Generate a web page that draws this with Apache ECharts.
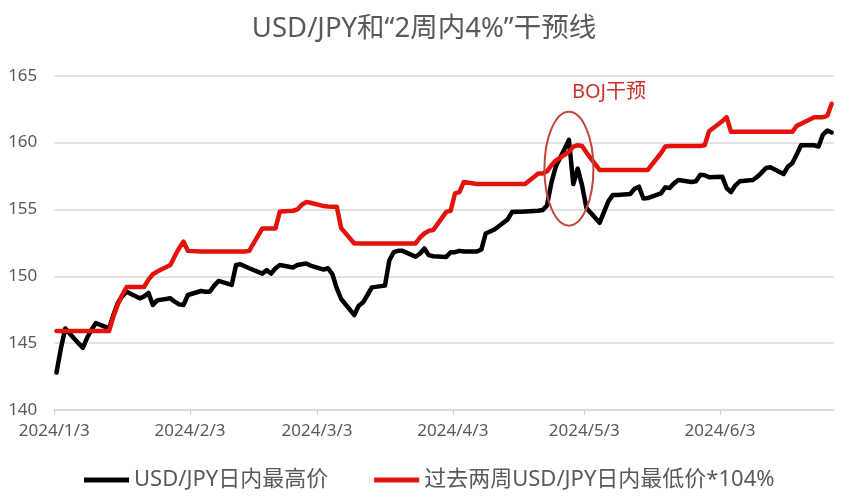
<!DOCTYPE html>
<html><head><meta charset="utf-8">
<script src="https://cdn.jsdelivr.net/npm/echarts@6/dist/echarts.min.js"></script>
<style>html,body{margin:0;padding:0;background:#fff}#c{width:848px;height:499px}</style>
</head><body><div id="c"></div>
<script>
const dates = [
'2024/1/3','2024/1/4','2024/1/5','2024/1/8','2024/1/9','2024/1/10','2024/1/11','2024/1/12','2024/1/15','2024/1/16','2024/1/17','2024/1/18','2024/1/19','2024/1/22','2024/1/23','2024/1/24','2024/1/25','2024/1/26','2024/1/29','2024/1/30','2024/1/31',
'2024/2/1','2024/2/2','2024/2/5','2024/2/6','2024/2/7','2024/2/8','2024/2/9','2024/2/12','2024/2/13','2024/2/14','2024/2/15','2024/2/16','2024/2/19','2024/2/20','2024/2/21','2024/2/22','2024/2/23','2024/2/26','2024/2/27','2024/2/28','2024/2/29',
'2024/3/1','2024/3/4','2024/3/5','2024/3/6','2024/3/7','2024/3/8','2024/3/11','2024/3/12','2024/3/13','2024/3/14','2024/3/15','2024/3/18','2024/3/19','2024/3/20','2024/3/21','2024/3/22','2024/3/25','2024/3/26','2024/3/27','2024/3/28','2024/3/29',
'2024/4/1','2024/4/2','2024/4/3','2024/4/4','2024/4/5','2024/4/8','2024/4/9','2024/4/10','2024/4/11','2024/4/12','2024/4/15','2024/4/16','2024/4/17','2024/4/18','2024/4/19','2024/4/22','2024/4/23','2024/4/24','2024/4/25','2024/4/26','2024/4/29','2024/4/30',
'2024/5/1','2024/5/2','2024/5/3','2024/5/6','2024/5/7','2024/5/8','2024/5/9','2024/5/10','2024/5/13','2024/5/14','2024/5/15','2024/5/16','2024/5/17','2024/5/20','2024/5/21','2024/5/22','2024/5/23','2024/5/24','2024/5/27','2024/5/28','2024/5/29','2024/5/30','2024/5/31',
'2024/6/3','2024/6/4','2024/6/5','2024/6/6','2024/6/7','2024/6/10','2024/6/11','2024/6/12','2024/6/13','2024/6/14','2024/6/17','2024/6/18','2024/6/19','2024/6/20','2024/6/21','2024/6/24','2024/6/25','2024/6/26','2024/6/27','2024/6/28'
];
// USD/JPY 日内最高价
const usdjpyHigh = [
142.8,144.6,146.1,145.0,144.65,145.4,146.0,146.5,146.1,147.1,148.0,148.5,148.85,148.35,148.5,148.75,147.85,148.2,148.35,148.1,147.9,
147.85,148.6,148.9,148.85,148.85,149.3,149.65,149.35,150.85,150.9,150.75,150.6,150.2,150.46,150.2,150.6,150.84,150.66,150.84,150.9,150.96,
150.8,150.5,150.6,150.15,149.1,148.3,147.1,147.8,148.05,148.6,149.17,149.3,151.2,151.8,151.9,151.9,151.46,151.7,152.08,151.58,151.5,
151.45,151.8,151.8,151.9,151.85,151.85,152.0,153.2,153.35,153.5,154.25,154.8,154.82,154.82,154.85,154.9,154.95,155.3,157.0,158.2,160.2,156.9,
158.05,156.8,155.1,154.0,154.8,155.6,156.07,156.07,156.15,156.55,156.7,155.82,155.85,156.2,156.65,156.6,156.95,157.2,157.05,157.1,157.6,157.55,157.4,
157.45,156.6,156.3,156.8,157.1,157.2,157.44,157.75,158.1,158.15,157.65,158.2,158.45,159.1,159.8,159.8,159.7,160.6,160.9,160.75
];
// 过去两周USD/JPY日内最低价*104%
const interventionLine = [
145.9,145.9,145.9,145.9,145.9,145.9,145.9,145.9,145.9,147.0,147.9,148.6,149.2,149.2,149.2,149.75,150.15,150.35,150.85,151.5,152.1,
152.6,151.9,151.85,151.85,151.85,151.85,151.85,151.85,151.85,151.85,151.85,151.9,153.58,153.58,153.58,153.58,154.85,154.9,155.0,155.35,155.55,
155.5,155.25,155.22,155.2,155.2,153.6,152.45,152.45,152.45,152.45,152.45,152.45,152.45,152.45,152.45,152.45,152.46,152.9,153.2,153.4,153.45,
154.82,154.9,156.2,156.3,157.05,156.9,156.9,156.9,156.9,156.9,156.9,156.9,156.9,156.9,156.9,157.69,157.69,157.85,158.3,158.65,159.3,159.7,
159.8,159.75,159.25,157.95,157.95,157.95,157.95,157.95,157.95,157.95,157.95,157.95,157.95,159.2,159.7,159.75,159.75,159.75,159.75,159.75,159.75,159.8,160.85,
161.6,161.9,160.8,160.8,160.8,160.8,160.8,160.8,160.8,160.8,160.8,160.8,160.8,161.25,161.4,161.9,161.9,161.9,162.0,162.9
];
const xTickLabels = ['2024/1/3','2024/2/3','2024/3/3','2024/4/3','2024/5/3','2024/6/3'];
const xAxisStart = '2024/1/3';
const xAxisEnd = '2024/6/29';
const yMin = 140, yMax = 165, yStep = 5;
const seriesNames = ['USD/JPY日内最高价','过去两周USD/JPY日内最低价*104%'];
const annotationText = 'BOJ干预';
const annotationDate = '2024/4/29';
const annotationValue = 158.05;

function toTs(s, h) { const p = s.split('/').map(Number); return new Date(p[0], p[1]-1, p[2], h || 0).getTime(); }
const tickTs = xTickLabels.map(s => toTs(s));
function fmt(v){ const d = new Date(v); return d.getFullYear()+'/'+(d.getMonth()+1)+'/'+d.getDate(); }

const chart = echarts.init(document.getElementById('c'), null, {renderer:'canvas'});
const grey = '#595959';
const mixFont = '"Noto Sans", "Noto Sans CJK SC", sans-serif';
chart.setOption({
  animation: false,
  backgroundColor: '#fff',
  title: {
    text: 'USD/JPY和“2周内4%”干预线', left: 'center', top: 10,
    textStyle: {fontSize: 27.5, fontWeight: 'normal', color: grey, fontFamily: mixFont}
  },
  grid: {left: 54.3, right: 14.1, top: 75.7, bottom: 89, containLabel: false},
  legend: {
    left: 79, top: 464, itemWidth: 45, itemHeight: 5, itemGap: 46, icon: 'rect',
    textStyle: {fontSize: 22, color: grey, fontFamily: mixFont},
    data: seriesNames
  },
  xAxis: {
    type: 'value', min: toTs(xAxisStart), max: toTs(xAxisEnd), scale: true,
    axisLine: {lineStyle: {color: '#d9d9d9', width: 1.5}},
    axisTick: {show: true, customValues: tickTs, length: 5, lineStyle: {color: '#d0d0d0', width: 1}},
    axisLabel: {customValues: tickTs, formatter: v => fmt(v), fontSize: 17, color: grey, margin: 13, fontFamily: '"Noto Sans"'},
    splitLine: {show: false}
  },
  yAxis: {
    type: 'value', min: yMin, max: yMax, interval: yStep,
    axisLine: {show: false}, axisTick: {show: false},
    axisLabel: {fontSize: 17, color: grey, margin: 17, fontFamily: '"Noto Sans"'},
    splitLine: {lineStyle: {color: '#d9d9d9', width: 1.5}}
  },
  series: [
    {name: seriesNames[0], type: 'line', symbol: 'none', color: '#000000',
     lineStyle: {width: 4.5, color: '#000000', join: 'round', cap: 'round'},
     data: dates.map((d, i) => [toTs(d, 12), usdjpyHigh[i]])},
    {name: seriesNames[1], type: 'line', symbol: 'none', color: '#e3120b',
     lineStyle: {width: 4.5, color: '#e3120b', join: 'round', cap: 'round'},
     data: dates.map((d, i) => [toTs(d, 12), interventionLine[i]])}
  ]
});
const c = chart.convertToPixel({xAxisIndex: 0, yAxisIndex: 0}, [toTs(annotationDate, 12), annotationValue]);
const rx = 24.5, ry = 57;
chart.setOption({
  graphic: [
    {type: 'ellipse', shape: {cx: c[0], cy: c[1], rx: rx, ry: ry}, style: {fill: 'none', stroke: '#c4453c', lineWidth: 2}, z: 100},
    {type: 'text', x: c[0] + 3, y: c[1] - ry - 29, style: {text: annotationText, fill: '#c8322b', font: '20px "Noto Sans", "Noto Sans CJK SC"'}, z: 100}
  ]
});
</script></body></html>
